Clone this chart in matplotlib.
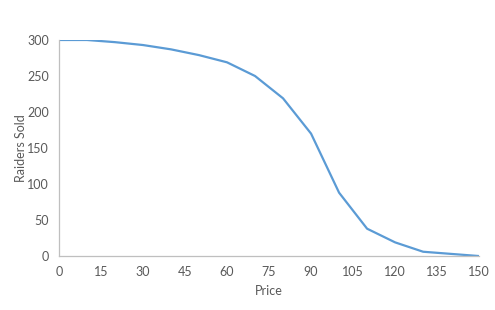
import matplotlib
matplotlib.use('Agg')
import matplotlib.pyplot as plt

price = [0, 10, 20, 30, 40, 50, 60, 70, 80, 90, 100, 110, 120, 130, 140, 150]
sold = [300, 300, 297, 293, 287, 279, 269, 250, 219, 170, 88, 38, 19, 6, 3, 0]
x_ticks = [0, 15, 30, 45, 60, 75, 90, 105, 120, 135, 150]
y_ticks = [0, 50, 100, 150, 200, 250, 300]

plt.rcParams['font.family'] = ['Lato', 'DejaVu Sans']
txt = '#595959'

fig = plt.figure(figsize=(4.95, 3.1), dpi=100)
ax = fig.add_axes([0.119, 0.174, 0.849, 0.697])
ax.plot(price, sold, color='#5B9BD5', linewidth=1.6, solid_joinstyle='round')

ax.set_xlim(0, 150)
ax.set_ylim(0, 300)
ax.set_xticks(x_ticks)
ax.set_yticks(y_ticks)
ax.tick_params(length=0, labelsize=9, colors=txt, pad=7)
for s in ['top', 'right']:
    ax.spines[s].set_visible(False)
for s in ['left', 'bottom']:
    ax.spines[s].set_color('#BFBFBF')
    ax.spines[s].set_linewidth(0.9)

ax.set_xlabel('Price', fontsize=9, color=txt, labelpad=5)
ax.set_ylabel('Raiders Sold', fontsize=9, color=txt, labelpad=0)

fig.savefig('out.png', dpi=100)
